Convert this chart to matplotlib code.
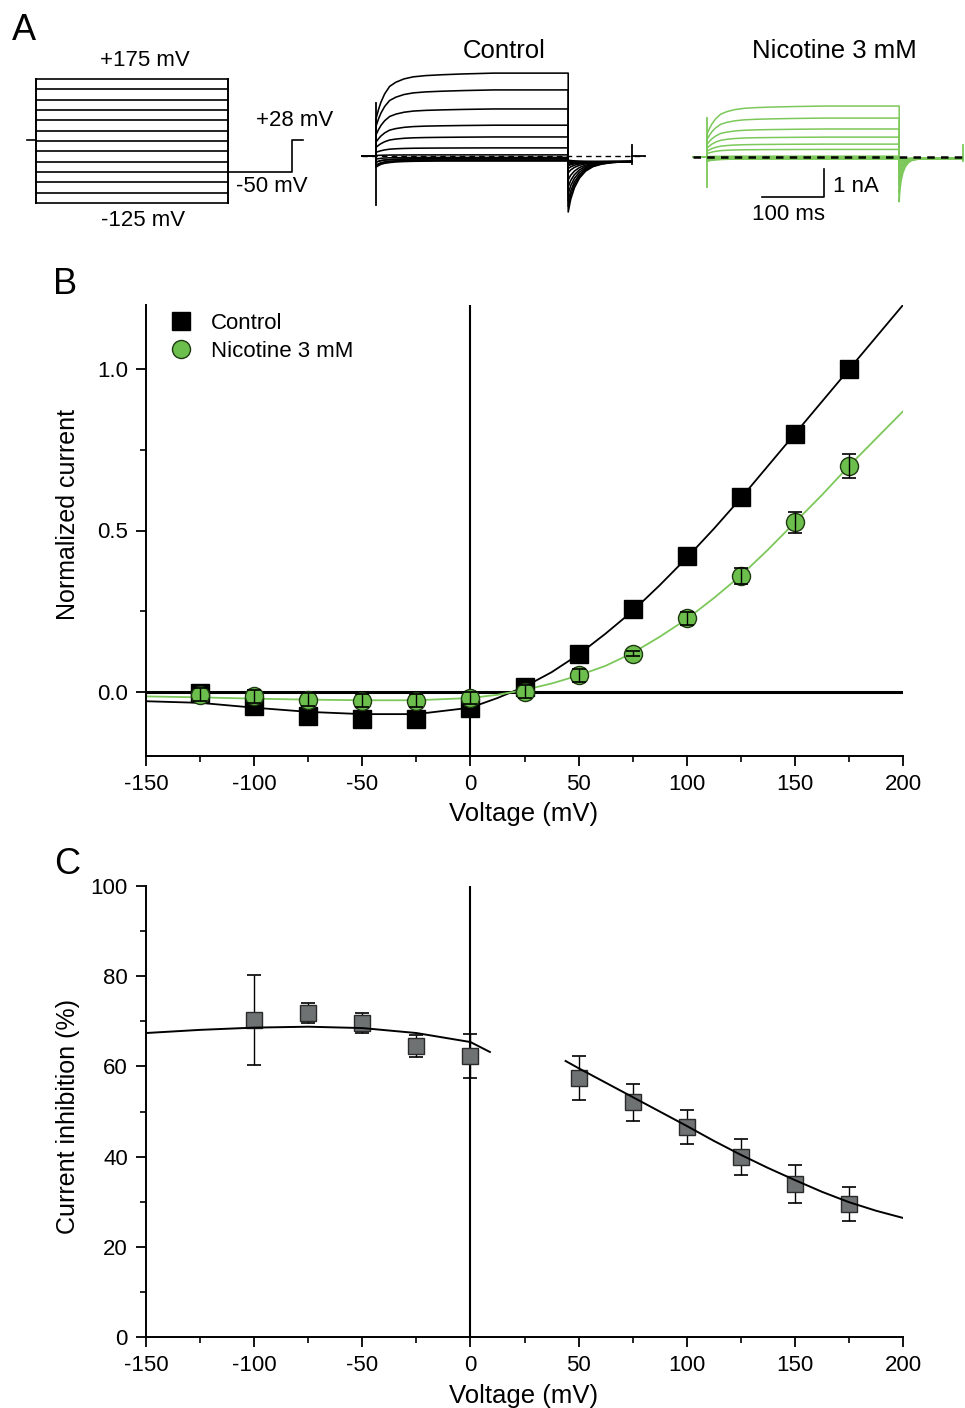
import matplotlib
matplotlib.use('Agg')
import matplotlib.pyplot as plt
from matplotlib.lines import Line2D
from matplotlib.ticker import MultipleLocator

plt.rcParams['font.family'] = ['Liberation Sans', 'DejaVu Sans']
plt.rcParams['axes.unicode_minus'] = False

W, H = 965, 1408
GREEN = '#6cbf4c'
GREEN_LINE = '#7cc85a'
GRAY = '#6e7273'

# ---- panel A: protocol + example traces ----
step_mv = [175, 150, 125, 100, 75, 50, 25, 0, -25, -50, -75, -100, -125]
hold_mv = 28
tail_mv = -50
step_ms = 310
tail_end_ms = 413

# steady-state currents (nA), same order as step_mv
ctrl_ss = [2.96, 2.36, 1.68, 1.10, 0.68, 0.29, 0.04, -0.10, -0.15, -0.18, -0.15, -0.10, -0.05]
nic_ss = [1.82, 1.39, 1.00, 0.71, 0.46, 0.27, 0.03, -0.04, -0.06, -0.07, -0.06, -0.04, -0.02]
# tail current peaks (nA)
ctrl_tail_pk = [-2.0, -1.8, -1.6, -1.35, -1.1, -0.85, -0.6, -0.45, -0.35, -0.3, -0.25, -0.2, -0.15]
nic_tail_pk = [-1.6, -1.3, -1.0, -0.8, -0.6, -0.45, -0.3, -0.25, -0.2, -0.15, -0.12, -0.1, -0.08]
ctrl_tail_base = -0.2
nic_tail_base = -0.05

# activation time course (fraction of steady state)
rise_t = [0, 4, 8, 14, 22, 32, 45, 60, 80, 105, 140, 190, 250, 310]
rise_f = [0.45, 0.56, 0.65, 0.75, 0.84, 0.89, 0.93, 0.955, 0.97, 0.98, 0.99, 1.0, 1.0, 1.0]
inward_f = [2.2, 1.9, 1.65, 1.45, 1.3, 1.18, 1.1, 1.05, 1.02, 1.0, 1.0, 1.0, 1.0, 1.0]
tail_f = [1.0, 0.75, 0.52, 0.33, 0.19, 0.1, 0.05, 0.02, 0.005, 0.0]
ctrl_tail_t = [310, 314, 320, 328, 338, 350, 364, 380, 400, 413]
nic_tail_t = [310, 311, 313, 316, 320, 325, 330, 340, 370, 413]

# ---- panel B: normalized I-V ----
volt = [-125, -100, -75, -50, -25, 0, 25, 50, 75, 100, 125, 150, 175]
ctrl_norm = [-0.005, -0.045, -0.075, -0.085, -0.085, -0.05, 0.015, 0.118, 0.255, 0.42, 0.605, 0.80, 1.0]
ctrl_err = [0.006, 0.008, 0.01, 0.01, 0.01, 0.008, 0.006, 0.008, 0.01, 0.01, 0.012, 0.012, 0.0]
nic_norm = [-0.01, -0.015, -0.025, -0.028, -0.028, -0.02, 0.0, 0.05, 0.118, 0.227, 0.36, 0.525, 0.70]
nic_err = [0.02, 0.02, 0.02, 0.02, 0.02, 0.02, 0.02, 0.02, 0.008, 0.02, 0.025, 0.033, 0.037]

fit_v = [-150, -125, -100, -75, -50, -25, 0, 12.5, 25, 37.5, 50, 62.5, 75, 87.5, 100,
         112.5, 125, 137.5, 150, 162.5, 175, 187.5, 200]
ctrl_fit = [-0.03, -0.035, -0.05, -0.063, -0.07, -0.07, -0.05, -0.02, 0.015, 0.06, 0.115, 0.18,
            0.25, 0.33, 0.415, 0.505, 0.60, 0.70, 0.80, 0.90, 1.0, 1.10, 1.2]
nic_fit = [-0.015, -0.018, -0.022, -0.025, -0.027, -0.027, -0.02, -0.01, 0.005, 0.025, 0.05, 0.08,
           0.12, 0.17, 0.225, 0.29, 0.36, 0.44, 0.525, 0.61, 0.70, 0.785, 0.87]

# ---- panel C: inhibition ----
c_volt = [-100, -75, -50, -25, 0, 50, 75, 100, 125, 150, 175]
inhib = [70.3, 71.8, 69.6, 64.5, 62.3, 57.4, 52.1, 46.6, 39.9, 33.9, 29.5]
inhib_err = [10.0, 2.2, 2.2, 2.4, 4.9, 4.8, 4.1, 3.8, 4.0, 4.2, 3.8]
fitL_v = [-150, -125, -100, -75, -50, -25, 0, 9]
fitL = [67.4, 68.1, 68.6, 68.8, 68.5, 67.4, 65.4, 63.2]
fitR_v = [44, 50, 62.5, 75, 87.5, 100, 112.5, 125, 137.5, 150, 162.5, 175, 187.5, 200]
fitR = [61.2, 59.6, 56.4, 53.2, 50.0, 46.8, 43.5, 40.4, 37.5, 34.8, 32.2, 29.9, 28.0, 26.4]


def px_axes(fig, x0, y0, x1, y1):
    return fig.add_axes([x0 / W, 1 - y1 / H, (x1 - x0) / W, (y1 - y0) / H])


def scaled_axes(fig, box, x_zero_px, y_zero_px, px_per_x, px_per_y):
    x0, y0, x1, y1 = box
    ax = px_axes(fig, x0, y0, x1, y1)
    ax.set_xlim((x0 - x_zero_px) / px_per_x, (x1 - x_zero_px) / px_per_x)
    ax.set_ylim((y_zero_px - y1) / px_per_y, (y_zero_px - y0) / px_per_y)
    ax.axis('off')
    return ax


def ftext(x, y, s, size=16, **kw):
    fig.text(x / W, 1 - y / H, s, fontsize=size, ha='center', va='center', **kw)


def draw_traces(ax, ss, tail_pk, tail_base, tail_t, color, spike, end_t, tick_hi, lw):
    for a, pk in zip(ss, tail_pk):
        frac = rise_f if a >= 0 else inward_f
        t = [-22, 0] + rise_t + tail_t
        cur = [0, 0] + [a * f for f in frac] + [tail_base + (pk - tail_base) * f for f in tail_f]
        ax.plot(t, cur, color=color, lw=lw, clip_on=False)
    ax.plot([0, 0], spike, color=color, lw=1.3, clip_on=False)
    ax.plot([tail_end_ms, tail_end_ms], [tail_base - 0.1, tick_hi], color=color, lw=1.3, clip_on=False)
    ax.plot([tail_end_ms, end_t], [0, 0], color=color, lw=1.3, clip_on=False)


fig = plt.figure(figsize=(W / 100, H / 100), dpi=100)

# protocol
axP = scaled_axes(fig, (0, 40, 350, 240), 36, 79 + 175 * 0.413, 0.62, 0.413)
for v in step_mv:
    axP.plot([0, step_ms], [v, v], color='k', lw=1.2)
axP.plot([0, 0], [min(step_mv), max(step_mv)], color='k', lw=1.4)
axP.plot([step_ms, step_ms], [min(step_mv), max(step_mv)], color='k', lw=1.4)
axP.plot([-15, 0], [hold_mv, hold_mv], color='k', lw=1.2)
axP.plot([step_ms, tail_end_ms, tail_end_ms, tail_end_ms + 18],
         [tail_mv, tail_mv, hold_mv, hold_mv], color='k', lw=1.2)

axCt = scaled_axes(fig, (340, 60, 660, 225), 376, 156, 0.62, 28)
axCt.plot([-22, 434], [0, 0], color='k', lw=1.0, ls=(0, (4, 3)))
draw_traces(axCt, ctrl_ss, ctrl_tail_pk, ctrl_tail_base, ctrl_tail_t, 'k', [-1.75, 1.9], 434, 0.4, 1.15)

axNt = scaled_axes(fig, (670, 60, 965, 225), 707, 157, 0.62, 28)
draw_traces(axNt, nic_ss, nic_tail_pk, nic_tail_base, nic_tail_t, GREEN_LINE, [-1.07, 1.4], 413, 0.43, 1.1)
axNt.plot([-22.6, 416], [0, 0], color='k', lw=1.8, ls=(0, (3, 2.5)), zorder=5)
axNt.plot([88.7, 188.7, 188.7], [-1.43, -1.43, -0.43], color='k', lw=1.2, clip_on=False)

ftext(24, 30, 'A', size=26)
ftext(145, 60, '+175 mV')
ftext(295, 121, '+28 mV')
ftext(272, 187, '-50 mV')
ftext(143, 220, '-125 mV')
ftext(504, 51, 'Control', size=18.5)
ftext(834, 51, 'Nicotine 3 mM', size=18.5)
ftext(856, 187, '1 nA')
ftext(789, 215, '100 ms')


def style_axes(ax, ymajor, yminor):
    for s in ('top', 'right'):
        ax.spines[s].set_visible(False)
    for s in ('left', 'bottom'):
        ax.spines[s].set_linewidth(1.4)
    ax.set_xlim(-150, 200)
    ax.xaxis.set_major_locator(MultipleLocator(50))
    ax.xaxis.set_minor_locator(MultipleLocator(25))
    ax.yaxis.set_major_locator(MultipleLocator(ymajor))
    ax.yaxis.set_minor_locator(MultipleLocator(yminor))
    ax.tick_params(which='major', direction='out', length=7, width=1.3, labelsize=16, pad=6)
    ax.tick_params(which='minor', direction='out', length=4, width=1.2)


# panel B
axB = px_axes(fig, 146, 305, 903, 756)
style_axes(axB, 0.5, 0.25)
axB.set_ylim(-0.2, 1.2)
axB.yaxis.set_major_formatter(matplotlib.ticker.FormatStrFormatter('%.1f'))
axB.axhline(0, color='k', lw=2.2, zorder=1)
axB.axvline(0, color='k', lw=1.5, zorder=1)
axB.plot(fit_v, ctrl_fit, color='k', lw=1.3, zorder=2)
axB.plot(fit_v, nic_fit, color=GREEN_LINE, lw=1.3, zorder=2)
axB.errorbar(volt, ctrl_norm, yerr=ctrl_err, fmt='none', ecolor='k', elinewidth=1, capsize=4, zorder=3)
axB.plot(volt, ctrl_norm, 's', ms=12.5, mfc='k', mec='k', zorder=4)
axB.plot(volt, nic_norm, 'o', ms=13, mfc=GREEN, mec='#1f3a12', mew=1.0, zorder=5)
axB.errorbar(volt, nic_norm, yerr=nic_err, fmt='none', ecolor='k', elinewidth=1, capsize=5,
             capthick=1.2, zorder=6)
handles = [Line2D([], [], ls='none', marker='s', ms=12.5, mfc='k', mec='k'),
           Line2D([], [], ls='none', marker='o', ms=13, mfc=GREEN, mec='#1f3a12')]
axB.legend(handles, ['Control', 'Nicotine 3 mM'], loc='upper left', frameon=False,
           bbox_to_anchor=((170 - 146) / 757, (756 - 313) / 451), borderpad=0, borderaxespad=0,
           handlelength=1.0, handletextpad=0.86, labelspacing=0.32, fontsize=16)
ftext(65, 285, 'B', size=26)
ftext(68, 515, 'Normalized current', size=18, rotation=90)
ftext(524, 814, 'Voltage (mV)', size=18.5)

# panel C
axC = px_axes(fig, 146, 886, 903, 1337)
style_axes(axC, 20, 10)
axC.set_ylim(0, 100)
axC.axvline(0, color='k', lw=1.5, zorder=1)
axC.errorbar(c_volt, inhib, yerr=inhib_err, fmt='none', ecolor='k', elinewidth=1, capsize=5,
             capthick=1.2, zorder=2)
axC.plot(c_volt, inhib, 's', ms=12, mfc=GRAY, mec='#2a2a2a', mew=1.0, zorder=3)
axC.plot(fitL_v, fitL, color='k', lw=1.4, zorder=4)
axC.plot(fitR_v, fitR, color='k', lw=1.4, zorder=4)
ftext(67, 865, 'C', size=26)
ftext(68, 1116, 'Current inhibition (%)', size=18, rotation=90)
ftext(524, 1396, 'Voltage (mV)', size=18.5)

fig.savefig('out.png', dpi=100)
